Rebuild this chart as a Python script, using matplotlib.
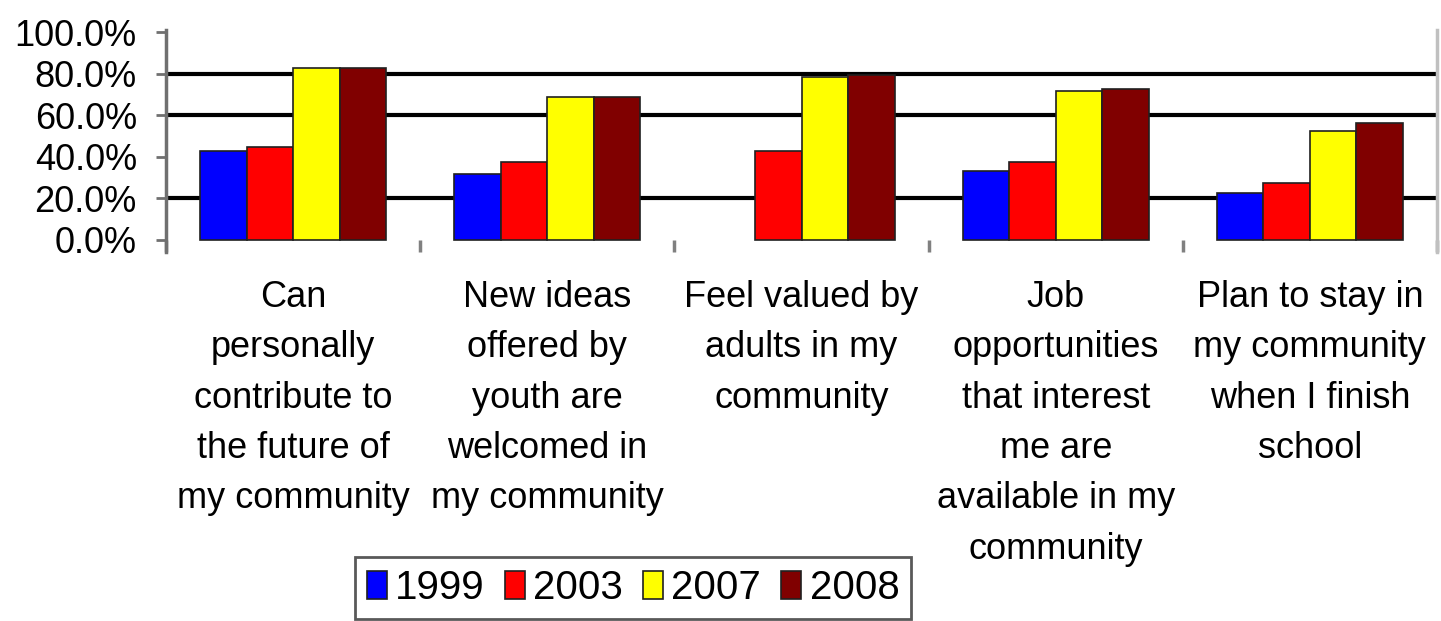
import matplotlib
matplotlib.use("Agg")
import matplotlib.pyplot as plt
import numpy as np
from matplotlib.patches import Patch

categories = [
    "Can\npersonally\ncontribute to\nthe future of\nmy community",
    "New ideas\noffered by\nyouth are\nwelcomed in\nmy community",
    "Feel valued by\nadults in my\ncommunity",
    "Job\nopportunities\nthat interest\nme are\navailable in my\ncommunity",
    "Plan to stay in\nmy community\nwhen I finish\nschool",
]
years = ["1999", "2003", "2007", "2008"]
v1999 = [42.9, 31.8, np.nan, 33.3, 22.6]
v2003 = [44.8, 37.6, 42.9, 37.6, 27.5]
v2007 = [82.9, 68.9, 78.6, 72.0, 52.5]
v2008 = [82.9, 68.9, 79.5, 72.8, 56.4]
series = [v1999, v2003, v2007, v2008]
colors = ["#0000FF", "#FF0000", "#FFFF00", "#800000"]
yticks = [0, 20, 40, 60, 80, 100]
ytick_labels = ["0.0%", "20.0%", "40.0%", "60.0%", "80.0%", "100.0%"]
gridlines = [20, 60, 80]

plt.rcParams['font.family'] = ['Liberation Sans', 'DejaVu Sans']

fig = plt.figure(figsize=(14.41, 6.21), dpi=100)
ax = fig.add_axes([166/1441, 1-252/621, (1437-166)/1441, (252-30)/621])

x = np.arange(len(categories))
w = 0.183
for i, (vals, c) in enumerate(zip(series, colors)):
    ax.bar(x + (i - 1.5) * w, vals, width=w, color=c, edgecolor="#202020",
           linewidth=1.2, zorder=3, label=years[i])

for g in gridlines:
    ax.axhline(g, color="black", linewidth=3, zorder=1)

ax.set_xlim(-0.5, len(categories) - 0.5)
ax.set_ylim(-5.8, 101.2)

ax.set_yticks(yticks)
ax.set_yticklabels(ytick_labels, fontsize=26)
ax.tick_params(axis="y", length=7, width=2, color="#707070", pad=14)

ax.set_xticks(x)
ax.set_xticklabels(categories, fontsize=26, linespacing=1.57)
ax.set_xticks(np.arange(-0.5, len(categories)), minor=True)
ax.tick_params(axis="x", which="major", length=0, pad=20)
ax.tick_params(axis="x", which="minor", direction="in", length=9, width=2.5,
               color="#808080")

for s in ["top", "bottom"]:
    ax.spines[s].set_visible(False)
ax.spines["left"].set_color("#707070")
ax.spines["left"].set_linewidth(2.5)
ax.spines["right"].set_color("#c0c0c0")
ax.spines["right"].set_linewidth(2.5)

handles = [Patch(facecolor=c, edgecolor="#202020", linewidth=1.2) for c in colors]
leg = fig.legend(handles, years, loc="upper left", bbox_to_anchor=(355/1441, 1-557/621),
                 ncol=4, fontsize=29, frameon=True, fancybox=False,
                 handlelength=0.5, handleheight=0.7, handletextpad=0.2,
                 columnspacing=0.5, borderaxespad=0, borderpad=0.3)
leg.get_frame().set_edgecolor("#303030")
leg.get_frame().set_linewidth(2)

fig.savefig("out.png", dpi=100)
